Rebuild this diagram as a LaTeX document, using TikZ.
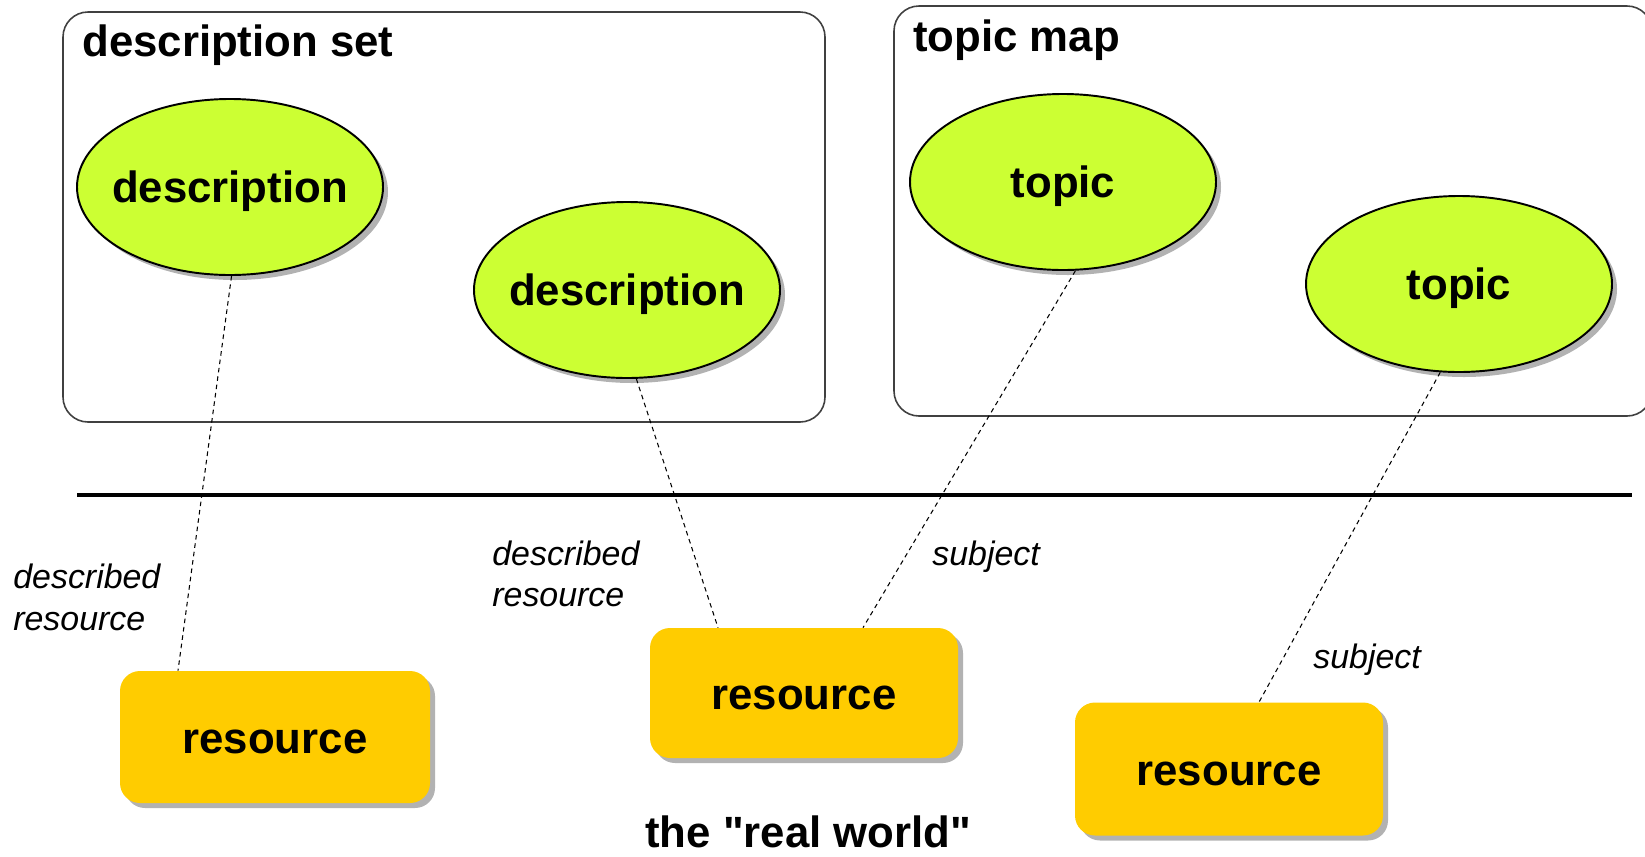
\documentclass[tikz,border=0pt]{standalone}
\usepackage{fontspec}
\setmainfont{Liberation Sans}[Ligatures=TeXOff]
\usetikzlibrary{shapes.geometric,shadows,calc}
\definecolor{limefill}{RGB}{204,255,51}
\definecolor{resfill}{RGB}{255,204,0}
\definecolor{shadowgray}{RGB}{178,178,178}
\newcommand{\pxu}{0.02cm}
\newdimen\pxdim
\pxdim=0.02cm
\newcommand{\ctext}[2]{\makebox[0pt]{\smash{\raisebox{-#1\pxdim}{#2}}}}
\tikzset{
  boldtext/.style={font=\fontsize{24.9}{30}\selectfont\bfseries},
  itltext/.style={font=\fontsize{19.3}{23}\selectfont\itshape, inner sep=0pt, anchor=base west},
  titletext/.style={boldtext, inner sep=0pt, anchor=base west},
  container/.style={draw=black!75, line width=0.9pt, rounded corners=0.5cm, inner sep=0pt},
  myshadow/.style={drop shadow={shadow xshift=0.1cm, shadow yshift=-0.1cm, fill=shadowgray, opacity=1}},
  descnode/.style={ellipse, draw=black, line width=1.1pt, fill=limefill, myshadow,
    minimum width=306*\pxu, minimum height=176*\pxu, inner sep=0pt, boldtext},
  resnode/.style={rectangle, rounded corners=0.4cm, fill=resfill, myshadow,
    minimum width=308*\pxu, minimum height=131*\pxu, inner sep=0pt, boldtext},
  link/.style={draw=black, line width=0.6pt, dash pattern=on 2.6pt off 2.2pt},
}
\begin{document}
\begin{tikzpicture}[x=0.02cm, y=-0.02cm]
\useasboundingbox (0,0) rectangle (1645,856);

% containers
\node[container, minimum width=762*\pxu, minimum height=410*\pxu] (setbox) at (444,217) {};
\node[container, minimum width=758*\pxu, minimum height=410*\pxu] (mapbox) at (1273,211) {};
\node[titletext] (settitle) at (82,56) {description set};
\node[titletext] (maptitle) at (913,51) {topic map};

% ellipses
\node[descnode] (e1) at (230,187) {\ctext{15}{description}};
\node[descnode] (e2) at (627,290) {\ctext{15}{description}};
\node[descnode] (e3) at (1063,182) {\ctext{15}{topic}};
\node[descnode] (e4) at (1459,284) {\ctext{15}{topic}};

% separator
\coordinate (sepL) at (77,495);
\coordinate (sepR) at (1632,495);
\draw[line width=2.8pt] (sepL) -- (sepR);

% resources
\node[resnode, minimum width=310*\pxu, minimum height=132*\pxu] (r1) at (275,737) {\ctext{16}{resource}};
\node[resnode, minimum height=130*\pxu] (r2) at (804,693) {\ctext{16}{resource}};
\node[resnode, minimum height=133*\pxu] (r3) at (1229,769) {\ctext{16}{resource}};

% connectors
\draw[link] (e1.-89) -- ($(r1.north)+(-97,0)$);
\draw[link] (e2.-84) -- ($(r2.north)+(-86,0)$);
\draw[link] (e3.-82) -- ($(r2.north)+(59,0)$);
\draw[link] (e4.-102.5) -- ($(r3.north)+(30,0)$);

% labels
\node[itltext] (la1) at (13,588) {described};
\node[itltext] (la2) at (13,630) {resource};
\node[itltext] (lb1) at (492,565) {described};
\node[itltext] (lb2) at (492,606) {resource};
\node[itltext] (lc) at (932,565) {subject};
\node[itltext] (ld) at (1313,668) {subject};

\node[titletext] (world) at (645,847) {the "real world"};
\end{tikzpicture}
\end{document}
